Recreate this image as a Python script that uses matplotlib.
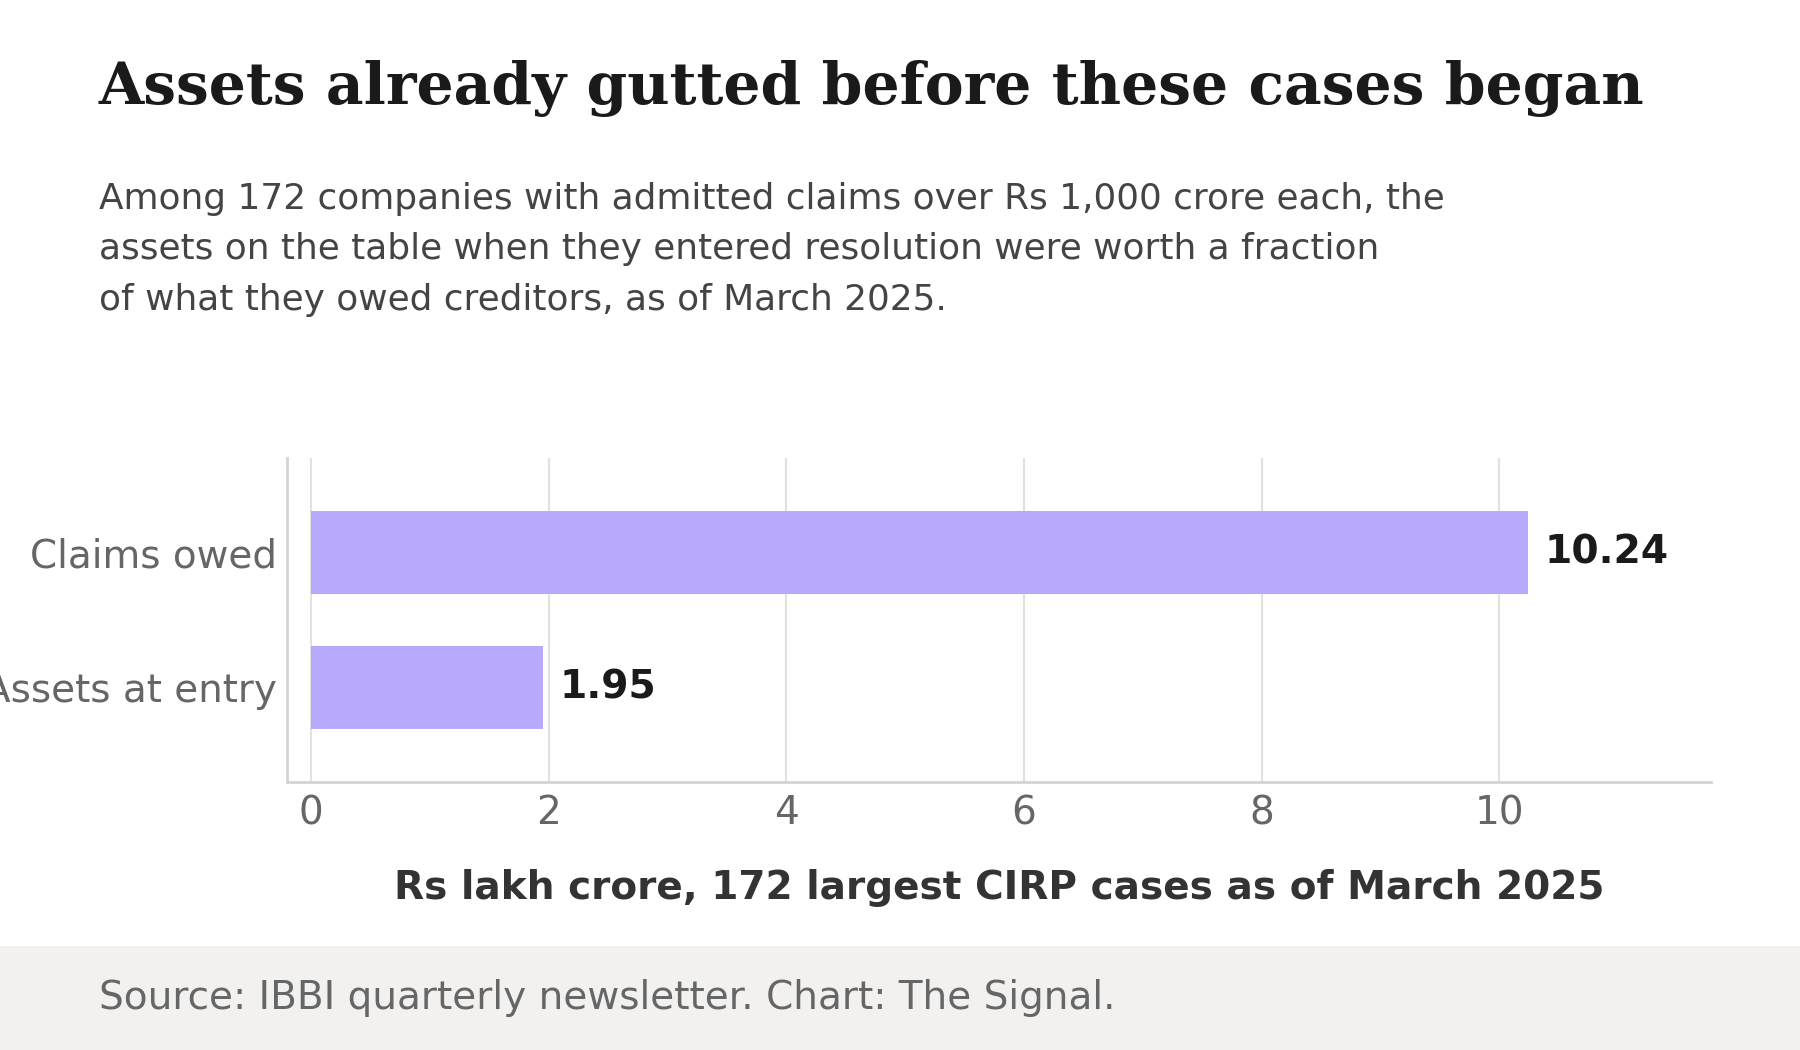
import matplotlib
matplotlib.use("Agg")
import matplotlib.pyplot as plt
from matplotlib.patches import Rectangle

categories = ["Assets at entry", "Claims owed"]
values = [1.95, 10.24]
value_labels = ["1.95", "10.24"]
xticks = [0, 2, 4, 6, 8, 10]

title = "Assets already gutted before these cases began"
subtitle_lines = [
    "Among 172 companies with admitted claims over Rs 1,000 crore each, the",
    "assets on the table when they entered resolution were worth a fraction",
    "of what they owed creditors, as of March 2025.",
]
xlabel = "Rs lakh crore, 172 largest CIRP cases as of March 2025"
source = "Source: IBBI quarterly newsletter. Chart: The Signal."

W, H = 1800, 1050
fig = plt.figure(figsize=(18, 10.5), dpi=100)
fig.patch.set_facecolor("white")

# footer band
fig.patches.append(Rectangle((0, 0), 1, 1 - 946 / H, transform=fig.transFigure,
                             facecolor="#f2f1ef", edgecolor="none", zorder=0))

ax = fig.add_axes([287 / W, 1 - 782 / H, (1711 - 287) / W, (782 - 458) / H])
ypos = list(range(len(categories)))
ax.barh(ypos, values, height=0.61, color="#b8a9fd", zorder=2)
for y, v, lab in zip(ypos, values, value_labels):
    ax.text(v + 0.14, y, lab, va="center", ha="left", fontsize=28.3,
            fontweight="bold", color="#1a1a1a")

ax.set_xlim(-0.2, 11.78)
ax.set_ylim(-0.7, 1.7)
ax.set_xticks(xticks)
ax.set_xticklabels([str(t) for t in xticks])
ax.set_yticks(ypos)
ax.set_yticklabels(categories)
ax.tick_params(axis="both", length=0, labelsize=28, labelcolor="#666666")
ax.tick_params(axis="x", pad=9)
ax.tick_params(axis="y", pad=7.5)
ax.grid(axis="x", color="#e3e1dd", linewidth=1.5, zorder=0)
ax.set_axisbelow(True)
for s in ["top", "right"]:
    ax.spines[s].set_visible(False)
for s in ["left", "bottom"]:
    ax.spines[s].set_color("#d6d4d0")
    ax.spines[s].set_linewidth(2)

fig.text(99 / W, 1 - 104 / H, title, fontsize=42, fontweight="bold",
         family="DejaVu Serif", color="#1a1a1a", va="baseline", ha="left")
for i, line in enumerate(subtitle_lines):
    fig.text(99 / W, 1 - (209 + i * 50.5) / H, line, fontsize=25.85,
             color="#444444", va="baseline", ha="left")
fig.text((287 + 1711) / 2 / W, 1 - 899 / H, xlabel, fontsize=28.1,
         fontweight="bold", color="#333333", va="baseline", ha="center")
fig.text(99 / W, 1 - 1009 / H, source, fontsize=28.1, color="#666666",
         va="baseline", ha="left")

fig.savefig("out.png", dpi=100, facecolor="white")
